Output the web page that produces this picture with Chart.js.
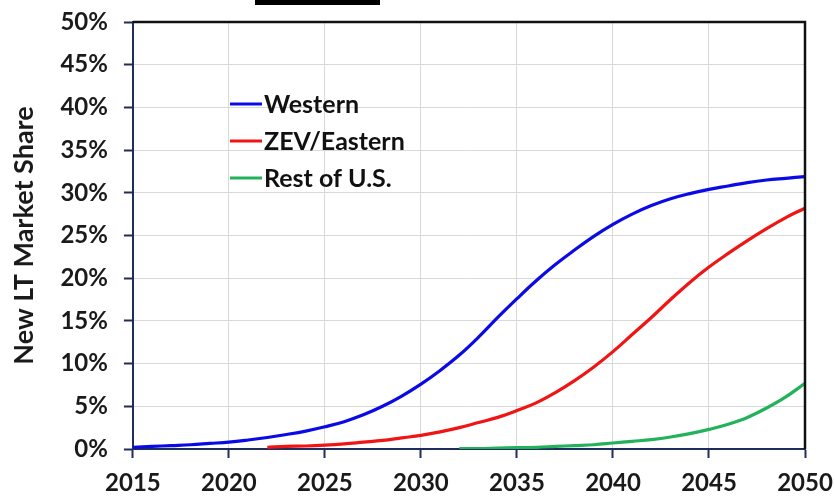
<!DOCTYPE html>
<html>
<head>
<meta charset="utf-8">
<script src="https://cdn.jsdelivr.net/npm/chart.js@4"></script>
<style>
  html, body { margin: 0; padding: 0; background: #fff; }
  #wrap { position: relative; width: 835px; height: 501px; }
  #titleBar { position: absolute; left: 255px; top: 0; width: 125px; height: 5px; background: #000; }
</style>
</head>
<body>
<div id="wrap">
  <canvas id="chart"></canvas>
  <div id="titleBar"></div>
</div>
<script>
// values, in % of new LT sales
const years = [2015, 2016, 2017, 2018, 2019, 2020, 2021, 2022, 2023, 2024,
               2025, 2026, 2027, 2028, 2029, 2030, 2031, 2032, 2033, 2034,
               2035, 2036, 2037, 2038, 2039, 2040, 2041, 2042, 2043, 2044,
               2045, 2046, 2047, 2048, 2049, 2050];
const western = [0.2, 0.3, 0.4, 0.5, 0.65, 0.8, 1.05, 1.35, 1.7, 2.1,
                 2.6, 3.2, 4.0, 5.0, 6.2, 7.6, 9.2, 11.0, 13.1, 15.4,
                 17.6, 19.7, 21.6, 23.3, 24.9, 26.3, 27.5, 28.5, 29.3, 29.9,
                 30.4, 30.8, 31.2, 31.5, 31.7, 31.9];
const zevEastern = [null, null, null, null, null, null, null, 0.2, 0.3, 0.35,
                    0.45, 0.6, 0.8, 1.0, 1.3, 1.6, 2.0, 2.5, 3.1, 3.7,
                    4.5, 5.4, 6.6, 8.0, 9.6, 11.4, 13.4, 15.4, 17.5, 19.5,
                    21.3, 22.9, 24.4, 25.8, 27.1, 28.2];
const restOfUS = [null, null, null, null, null, null, null, null, null, null,
                  null, null, null, null, null, null, null, 0.05, 0.05, 0.1,
                  0.15, 0.2, 0.3, 0.4, 0.5, 0.7, 0.9, 1.1, 1.4, 1.8,
                  2.3, 2.9, 3.7, 4.8, 6.1, 7.7];
const seriesNames = ["Western", "ZEV/Eastern", "Rest of U.S."];
const yTicks = [0, 5, 10, 15, 20, 25, 30, 35, 40, 45, 50];
const xTicks = [2015, 2020, 2025, 2030, 2035, 2040, 2045, 2050];

const toPoints = vals => years.map((y, i) => ({x: y, y: vals[i]})).filter(p => p.y !== null);

// black frame on top and right, like the original plot box
const frame = {
    id: 'frame',
    afterDraw(chart) {
        const {ctx, chartArea: a} = chart;
        ctx.save();
        ctx.strokeStyle = '#111';
        ctx.lineWidth = 2.5;
        ctx.beginPath();
        ctx.moveTo(a.left, a.top);
        ctx.lineTo(a.right, a.top);
        ctx.lineTo(a.right, a.bottom);
        ctx.stroke();
        ctx.restore();
    }
};

// legend sitting inside the plot, upper left
const insideLegend = {
    id: 'insideLegend',
    afterDatasetsDraw(chart) {
        const {ctx} = chart;
        ctx.save();
        ctx.font = 'bold 25px Lato';
        ctx.textBaseline = 'middle';
        ctx.fillStyle = '#111';
        chart.data.datasets.forEach((ds, i) => {
            const y = 104 + i * 37;
            ctx.strokeStyle = ds.borderColor;
            ctx.lineWidth = 3;
            ctx.beginPath();
            ctx.moveTo(230, y);
            ctx.lineTo(262, y);
            ctx.stroke();
            ctx.fillText(ds.label, 264, y + 1);
        });
        ctx.restore();
    }
};

const ctx = document.getElementById('chart').getContext('2d');
new Chart(ctx, {
    type: 'line',
    data: {
        datasets: [
            {label: seriesNames[0], data: toPoints(western), borderColor: '#0a0ae6', borderWidth: 3.2},
            {label: seriesNames[1], data: toPoints(zevEastern), borderColor: '#f01414', borderWidth: 3.2},
            {label: seriesNames[2], data: toPoints(restOfUS), borderColor: '#22b35a', borderWidth: 3.2}
        ]
    },
    options: {
        responsive: true,
        maintainAspectRatio: false,
        animation: false,
        layout: {padding: {top: 22, right: 30, left: 0, bottom: 0}},
        elements: {
            point: {radius: 0},
            line: {tension: 0.4, fill: false}
        },
        plugins: {
            legend: {display: false},
            tooltip: {enabled: false}
        },
        scales: {
            x: {
                type: 'linear',
                min: xTicks[0],
                max: xTicks[xTicks.length - 1],
                afterBuildTicks: axis => { axis.ticks = xTicks.map(v => ({value: v})); },
                afterFit: axis => { axis.paddingLeft = 0; axis.paddingRight = 0; axis.height = 52; },
                ticks: {
                    callback: v => String(v),
                    color: '#1a1a1a',
                    padding: 11,
                    maxRotation: 0,
                    font: {family: 'Lato', weight: 'bold', size: 24}
                },
                grid: {color: '#d9d9d9', lineWidth: 1, tickLength: 9, tickColor: '#1f2d5a', tickWidth: 2},
                border: {color: '#1f2d5a', width: 2}
            },
            y: {
                min: 0,
                max: 50,
                afterBuildTicks: axis => { axis.ticks = yTicks.map(v => ({value: v})); },
                afterFit: axis => { axis.paddingTop = 0; axis.paddingBottom = 0; },
                ticks: {
                    callback: v => v + '%',
                    color: '#1a1a1a',
                    padding: 16,
                    font: {family: 'Lato', weight: 'bold', size: 24}
                },
                grid: {color: '#d9d9d9', lineWidth: 1, tickLength: 9, tickColor: '#1f2d5a', tickWidth: 2},
                border: {color: '#1f2d5a', width: 2},
                title: {
                    display: true,
                    text: 'New LT Market Share',
                    color: '#1a1a1a',
                    padding: {top: 8, bottom: 4},
                    font: {family: 'Lato', weight: 'bold', size: 27}
                }
            }
        }
    },
    plugins: [frame, insideLegend]
});
</script>
</body>
</html>
